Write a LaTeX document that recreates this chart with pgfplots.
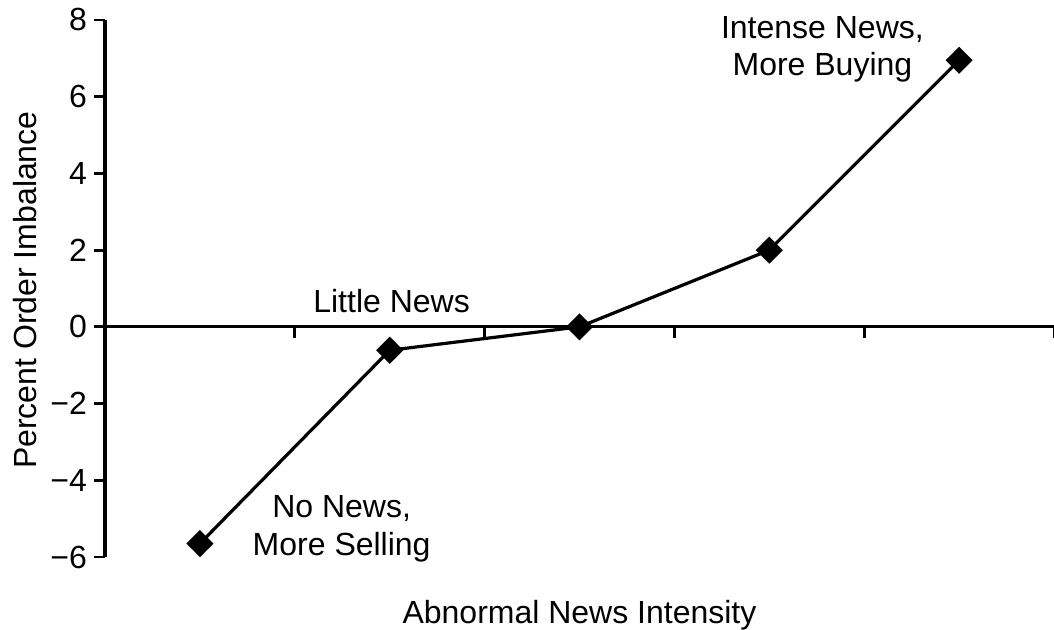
\documentclass[border=0pt]{standalone}
\usepackage{fontspec}
\setmainfont{Liberation Sans}
\usepackage{pgfplots}
\pgfplotsset{compat=1.18}
\newcommand{\fs}{\fontsize{16}{18.8}\selectfont}
\begin{document}
\begin{tikzpicture}
\useasboundingbox (-52.5pt,-36.5pt) rectangle (474.5pt,278.5pt);
\begin{axis}[
  at={(0,0)}, anchor=south west,
  scale only axis, width=474.5pt, height=268.5pt,
  xmin=0.5, xmax=5.5, ymin=-6, ymax=8,
  axis y line=left, axis x line=middle,
  axis line style={-, line width=1.6pt},
  every tick/.style={black, line width=1.4pt},
  major tick length=5.5pt,
  tick align=outside,
  xtick={1.5,2.5,3.5,4.5,5.5}, xticklabels={},
  ytick={-6,-4,-2,0,2,4,6,8},
  yticklabels={−6,−4,−2,0,2,4,6,8},
  tick label style={font=\fs},
  clip=false,
  xlabel={Abnormal News Intensity},
  ylabel={Percent Order Imbalance},
  every axis x label/.style={at={(axis description cs:0.5,-0.108)}, anchor=center, font=\fs},
  every axis y label/.style={at={(axis description cs:-0.0843,0.497)}, rotate=90, anchor=center, font=\fs},
]
\addplot[black, line width=1.6pt, mark=square*, mark size=4pt, mark options={rotate=45, solid, fill=black}]
  coordinates {(1,-5.65) (2,-0.61) (3,0) (4,2.0) (5,6.95)};
\node[font=\fs, align=center, inner sep=0pt] at (axis cs:2.01,0.66) {Little News};
\node[font=\fs, align=center, inner sep=0pt] at (axis cs:1.747,-5.26) {No News,\\More Selling};
\node[font=\fs, align=center, inner sep=0pt] at (axis cs:4.28,7.24) {Intense News,\\More Buying};
\end{axis}
\end{tikzpicture}
\end{document}
